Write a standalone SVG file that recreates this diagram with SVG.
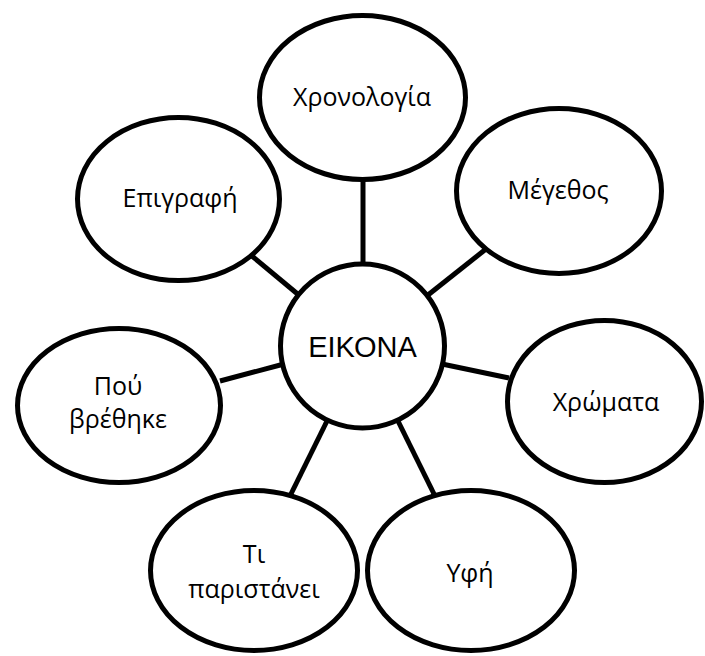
<svg xmlns="http://www.w3.org/2000/svg" width="705" height="656" viewBox="0 0 705 656">
<style>
.n{fill:#fff;stroke:#000;stroke-width:5}
.c line{stroke:#000;stroke-width:5}
.t{font-family:"Open Sans","Noto Sans",sans-serif;font-size:25px;fill:#000;text-anchor:middle}
.m{font-family:"Liberation Sans",Arial,sans-serif;font-size:29px;fill:#000;text-anchor:middle}
</style>
<rect width="705" height="656" fill="#fff"/>
<g id="connectors" class="c">
<line x1="363" y1="178" x2="363" y2="266"/>
<line x1="252" y1="256" x2="300" y2="296"/>
<line x1="486" y1="249" x2="428" y2="295"/>
<line x1="220" y1="381" x2="284" y2="364"/>
<line x1="442" y1="364" x2="509" y2="378"/>
<line x1="327" y1="421" x2="290" y2="496"/>
<line x1="398" y1="421" x2="435" y2="496"/>
</g>
<g id="chronologia"><ellipse class="n" cx="362.5" cy="97.5" rx="103" ry="82"/><text class="t" x="362" y="106">Χρονολογία</text></g>
<g id="megethos"><ellipse class="n" cx="559" cy="191" rx="102.5" ry="82.5"/><text class="t" x="558" y="199">Μέγεθος</text></g>
<g id="epigrafi"><ellipse class="n" cx="178.5" cy="199" rx="101" ry="81.5"/><text class="t" x="180" y="207">Επιγραφή</text></g>
<g id="pou"><ellipse class="n" cx="119" cy="405.5" rx="101.5" ry="77"/><text class="t" x="118" y="395">Πού</text><text class="t" x="118" y="428">βρέθηκε</text></g>
<g id="chromata"><ellipse class="n" cx="604.5" cy="401.5" rx="97" ry="81"/><text class="t" x="606" y="411">Χρώματα</text></g>
<g id="ti"><ellipse class="n" cx="254" cy="570.5" rx="103.5" ry="80"/><text class="t" x="254" y="563">Τι</text><text class="t" x="254" y="598">παριστάνει</text></g>
<g id="yfi"><ellipse class="n" cx="471" cy="570.5" rx="103.5" ry="80"/><text class="t" x="470" y="582">Υφή</text></g>
<g id="eikona"><circle class="n" cx="362.5" cy="346" r="82"/><text class="m" x="362.5" y="357">ΕΙΚΟΝΑ</text></g>
</svg>
